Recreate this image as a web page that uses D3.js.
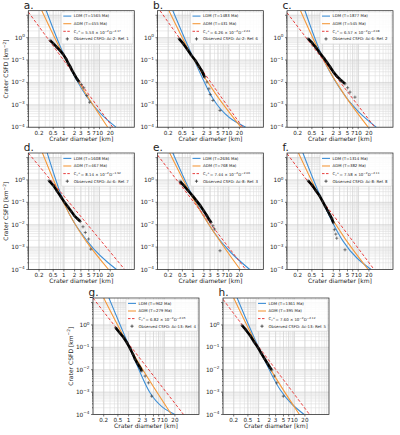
<!DOCTYPE html>
<html><head><meta charset="utf-8">
<script src="https://cdn.jsdelivr.net/npm/d3@7"></script>
<style>body{margin:0;background:#fff} svg{display:block} text{font-family:"DejaVu Sans",sans-serif;fill:#222}</style>
</head><body><svg id="c" width="400" height="435"></svg>
<script>
// ---------------- data ----------------
const panelNames = ["a","b","c","d","e","f","g","h"];
const ldmAges = [1565,1483,1877,1608,2636,1314,962,1361];
const admAges = [455,431,545,467,768,382,279,395];
const fitCoef = ["5.53","6.26","6.57","8.14","7.44","7.58","6.82","7.60"];
const fitExp = ["2.17","2.24","2.08","1.92","2.06","2.11","2.05","2.12"];
const areaNames = ["Ac-2","Ac-2","Ac-6","Ac-6","Ac-8","Ac-8","Ac-13","Ac-13"];
const refNums = [1,6,2,7,3,8,4,5];
const xTickValues = [0.2,0.5,1,2,3,5,7,10,20];
const xTickLabels = ["0.2","0.5","1","2","3","5","7","10","20"];
const yTickValues = [1,1e-1,1e-2,1e-3,1e-4];
const yTickExps = ["0","−1","−2","−3","−4"];

// LDM model curves [D km, N km^-2]
const ldm = [
  [[0.32,16],[1,0.17],[4.4,2.3e-3],[29,1e-4]],
  [[0.27,16],[1,0.13],[3.6,1.9e-3],[30,1e-4]],
  [[0.32,16],[1,0.13],[3.1,5.2e-3],[32,1e-4]],
  [[0.34,16],[1,0.10],[4.9,1.6e-3],[30,1e-4]],
  [[0.27,16],[1,0.17],[3.6,5.4e-3],[39,1e-4]],
  [[0.28,16],[1,0.11],[3.8,1.8e-3],[23,1e-4]],
  [[0.28,16],[1,0.13],[4.0,9.3e-4],[20,1e-4]],
  [[0.25,16],[1,0.10],[4.0,1.3e-3],[19,1e-4]]
];
// ADM model curves
const adm = [
  [[0.24,16],[1,0.15],[17,1e-4]],
  [[0.21,16],[1,0.12],[22,1e-4]],
  [[0.24,16],[1,0.12],[19,1e-4]],
  [[0.25,16],[1,0.09],[18,1e-4]],
  [[0.22,16],[1,0.15],[21,1e-4]],
  [[0.21,16],[1,0.10],[19,1e-4]],
  [[0.20,16],[1,0.12],[16,1e-4]],
  [[0.20,16],[1,0.09],[14,1e-4]]
];
// power-law fit lines (end points)
const fit = [
  [[0.1,14],[23.5,1e-4]],
  [[0.118,16],[24.5,1e-4]],
  [[0.1,13],[29,1e-4]],
  [[0.1,16],[51,1e-4]],
  [[0.1,13],[30,1e-4]],
  [[0.1,15],[28,1e-4]],
  [[0.1,16],[35,1e-4]],
  [[0.1,14],[27,1e-4]]
];
// observed CSFD, dense part
const obsDense = [
  [[0.41,0.76],[0.51,0.54],[0.63,0.38],[0.77,0.27],[0.96,0.18],[1.14,0.115],[1.32,0.073],[1.53,0.049],[1.74,0.032],[2.02,0.021],[2.35,0.014],[2.67,0.0107]],
  [[0.40,0.90],[0.53,0.54],[0.70,0.29],[0.90,0.16],[1.19,0.090],[1.47,0.052],[1.78,0.032],[2.11,0.017]],
  [[0.39,0.90],[0.51,0.58],[0.65,0.36],[0.83,0.21],[1.07,0.127],[1.32,0.079],[1.63,0.049],[2.02,0.029],[2.50,0.019],[3.10,0.0136],[3.59,0.0111],[4.26,0.0087]],
  [[0.38,0.93],[0.51,0.56],[0.65,0.31],[0.84,0.17],[1.04,0.10],[1.29,0.064],[1.60,0.040],[1.98,0.025],[2.45,0.018],[2.90,0.014]],
  [[0.43,0.87],[0.55,0.56],[0.73,0.33],[0.96,0.20],[1.24,0.119],[1.60,0.071],[1.98,0.042],[2.45,0.025],[2.90,0.016],[3.23,0.0127]],
  [[0.39,0.93],[0.51,0.58],[0.65,0.33],[0.83,0.19],[1.0,0.111],[1.19,0.066],[1.41,0.040],[1.63,0.026],[1.82,0.0186],[2.02,0.0119]],
  [[0.43,0.76],[0.56,0.45],[0.73,0.27],[0.90,0.16],[1.11,0.087],[1.32,0.049],[1.53,0.029],[1.78,0.019],[2.11,0.0123],[2.35,0.0087]],
  [[0.34,0.97],[0.44,0.60],[0.59,0.32],[0.76,0.17],[0.96,0.097],[1.19,0.054],[1.47,0.031],[1.78,0.019],[2.11,0.0123],[2.35,0.0097]]
];
// observed CSFD, sparse large-crater tail
const obsSparse = [
  [[3.1,8.1e-3],[3.6,5.8e-3],[4.4,2.6e-3],[5.3,1.3e-3]],
  [[2.45,0.0104],[2.78,5.2e-3],[3.03,2.9e-3],[3.6,1.56e-3],[5.7,5.6e-4]],
  [[5.06,5.8e-3],[5.87,3.7e-3],[8.1,2.2e-3]],
  [[3.44,8.1e-3],[4.0,4.5e-3],[4.95,2.3e-3],[5.7,8.1e-4]],
  [[3.6,9.0e-3],[4.0,6.4e-3],[5.7,6.9e-4]],
  [[2.15,6.0e-3],[2.35,3.8e-3],[2.5,2.5e-3],[4.26,7.6e-4]],
  [[2.9,5.2e-3],[3.6,2.6e-3],[4.45,6.6e-4]],
  [[2.78,5.2e-3],[3.23,2.6e-3],[4.95,6.6e-4]]
];

// ---------------- layout ----------------
const W = 106, H = 116.5;
const panelPos = [[28.3,10.7],[157.5,10.7],[287,10.7],[28.3,153],[157.5,153],[287,153],[93,298],[223,298]];
const yLabelPanels = [0,3,6];
const C_LDM = "#3f8fd5", C_ADM = "#f59a3c", C_FIT = "#e8403f";

const svg = d3.select("#c");
const x = d3.scaleLog().domain([0.1,95]).range([0,W]);
const y = d3.scaleLog().domain([1e-4,16]).range([H,0]);
const curveLine = d3.line().x(d=>x(d[0])).y(d=>y(d[1])).curve(d3.curveMonotoneX);
const straight = d3.line().x(d=>x(d[0])).y(d=>y(d[1]));
const plusPath = "M-1.6,0H1.6M0,-1.6V1.6";

function richText(sel, parts, fs){
  parts.forEach(p=>{
    if(p.s==="sup"){ sel.append("tspan").attr("dy",-fs*0.38).attr("font-size",fs*0.72).text(p.t); sel.append("tspan").attr("dy",fs*0.38).text("\u200a"); }
    else if(p.s==="sub"){ sel.append("tspan").attr("dy",fs*0.25).attr("font-size",fs*0.72).text(p.t); sel.append("tspan").attr("dy",-fs*0.25).text(""); }
    else sel.append("tspan").text(p.t);
  });
}

panelNames.forEach((nm,i)=>{
  const g = svg.append("g").attr("transform",`translate(${panelPos[i][0]},${panelPos[i][1]})`);
  const cid = "clip"+i;
  g.append("clipPath").attr("id",cid).append("rect").attr("width",W).attr("height",H);

  // grid
  const gx = x.ticks(), gy = y.ticks();
  const isMajor = v => Math.abs(Math.log10(v)-Math.round(Math.log10(v)))<1e-6;
  g.append("g").selectAll("line").data(gx).join("line")
    .attr("x1",d=>x(d)).attr("x2",d=>x(d)).attr("y1",0).attr("y2",H)
    .attr("stroke",d=>isMajor(d)?"#c6c6c6":"#dedede").attr("stroke-width",0.6);
  g.append("g").selectAll("line").data(gy).join("line")
    .attr("y1",d=>y(d)).attr("y2",d=>y(d)).attr("x1",0).attr("x2",W)
    .attr("stroke",d=>isMajor(d)?"#c6c6c6":"#dedede").attr("stroke-width",0.6);
  g.append("g").selectAll("line").data(xTickValues).join("line")
    .attr("x1",d=>x(d)).attr("x2",d=>x(d)).attr("y1",0).attr("y2",H)
    .attr("stroke","#d2d2d2").attr("stroke-width",0.6);

  const pg = g.append("g").attr("clip-path",`url(#${cid})`);
  pg.append("path").attr("d",curveLine(ldm[i])).attr("fill","none").attr("stroke",C_LDM).attr("stroke-width",1.1);
  pg.append("path").attr("d",curveLine(adm[i])).attr("fill","none").attr("stroke",C_ADM).attr("stroke-width",1.1);
  pg.append("path").attr("d",straight(fit[i])).attr("fill","none").attr("stroke",C_FIT).attr("stroke-width",1.0).attr("stroke-dasharray","3,2");
  pg.append("path").attr("d",straight(obsDense[i])).attr("fill","none").attr("stroke","#000").attr("stroke-width",2.6).attr("stroke-linejoin","round");
  pg.append("g").selectAll("path").data(obsDense[i].concat(obsSparse[i])).join("path")
    .attr("d",plusPath).attr("transform",d=>`translate(${x(d[0])},${y(d[1])})`)
    .attr("stroke","#333").attr("stroke-width",0.8).attr("stroke-opacity",0.75);

  // frame
  g.append("rect").attr("width",W).attr("height",H).attr("fill","none").attr("stroke","#222").attr("stroke-width",0.7);

  // ticks
  g.append("g").selectAll("line").data(xTickValues).join("line")
    .attr("x1",d=>x(d)).attr("x2",d=>x(d)).attr("y1",H).attr("y2",H+2).attr("stroke","#222").attr("stroke-width",0.6);
  g.append("g").selectAll("line").data(gy).join("line")
    .attr("y1",d=>y(d)).attr("y2",d=>y(d)).attr("x1",0).attr("x2",d=>isMajor(d)?-2:-1).attr("stroke","#222").attr("stroke-width",0.6);
  g.append("g").selectAll("text").data(xTickValues).join("text")
    .attr("x",d=>x(d)).attr("y",H+7.6).attr("text-anchor","middle").attr("font-size",5.6)
    .text((d,k)=>xTickLabels[k]);
  yTickValues.forEach((v,k)=>{
    const t = g.append("text").attr("x",-3.5).attr("y",y(v)+2).attr("text-anchor","end").attr("font-size",5.8);
    t.append("tspan").text("10");
    t.append("tspan").attr("dy",-2.4).attr("font-size",4.2).text(yTickExps[k]);
  });
  g.append("text").attr("x",W/2).attr("y",H+13.6).attr("text-anchor","middle").attr("font-size",6).text("Crater diameter [km]");
  if(yLabelPanels.includes(i)){
    const t = g.append("text").attr("transform",`translate(-20.5,${H/2}) rotate(-90)`).attr("text-anchor","middle").attr("font-size",6);
    t.append("tspan").text("Crater CSFD [km");
    t.append("tspan").attr("dy",-2.2).attr("font-size",4.3).text("−2");
    t.append("tspan").attr("dy",2.2).text("]");
  }
  g.append("text").attr("x",-4.5).attr("y",-1.8).attr("font-size",10.5).text(nm+".");

  // legend
  const lx = 33, ly = 1.2, lw = W-lx-1.2, lh = 32;
  const lg = g.append("g").attr("transform",`translate(${lx},${ly})`);
  lg.append("rect").attr("width",lw).attr("height",lh).attr("rx",1.5).attr("fill","#fff").attr("fill-opacity",0.85).attr("stroke","#cfcfcf").attr("stroke-width",0.5);
  const rows = [4.2, 11.8, 19.4, 27.0];
  const fs = 3.9;
  lg.append("line").attr("x1",2).attr("x2",10).attr("y1",rows[0]).attr("y2",rows[0]).attr("stroke",C_LDM).attr("stroke-width",1.1);
  lg.append("line").attr("x1",2).attr("x2",10).attr("y1",rows[1]).attr("y2",rows[1]).attr("stroke",C_ADM).attr("stroke-width",1.1);
  lg.append("line").attr("x1",2).attr("x2",10).attr("y1",rows[2]).attr("y2",rows[2]).attr("stroke",C_FIT).attr("stroke-width",1.0).attr("stroke-dasharray","2.5,1.5");
  lg.append("path").attr("d",plusPath).attr("transform",`translate(6,${rows[3]})`).attr("stroke","#333").attr("stroke-width",0.8);
  const tx = 12.5;
  lg.append("text").attr("x",tx).attr("y",rows[0]+1.4).attr("font-size",fs).text(`LDM (T=${ldmAges[i]} Ma)`);
  lg.append("text").attr("x",tx).attr("y",rows[1]+1.4).attr("font-size",fs).text(`ADM (T=${admAges[i]} Ma)`);
  const t3 = lg.append("text").attr("x",tx).attr("y",rows[2]+1.4).attr("font-size",fs);
  richText(t3,[{t:"C"},{t:"c",s:"sub"},{t:"+",s:"sup"},{t:"= "+fitCoef[i]+" × 10"},{t:"−2",s:"sup"},{t:"D"},{t:"−"+fitExp[i],s:"sup"}],fs);
  lg.append("text").attr("x",tx).attr("y",rows[3]+1.4).attr("font-size",fs).text(`Observed CSFD: ${areaNames[i]}: Ref. ${refNums[i]}`);
});
</script>
</body></html>
